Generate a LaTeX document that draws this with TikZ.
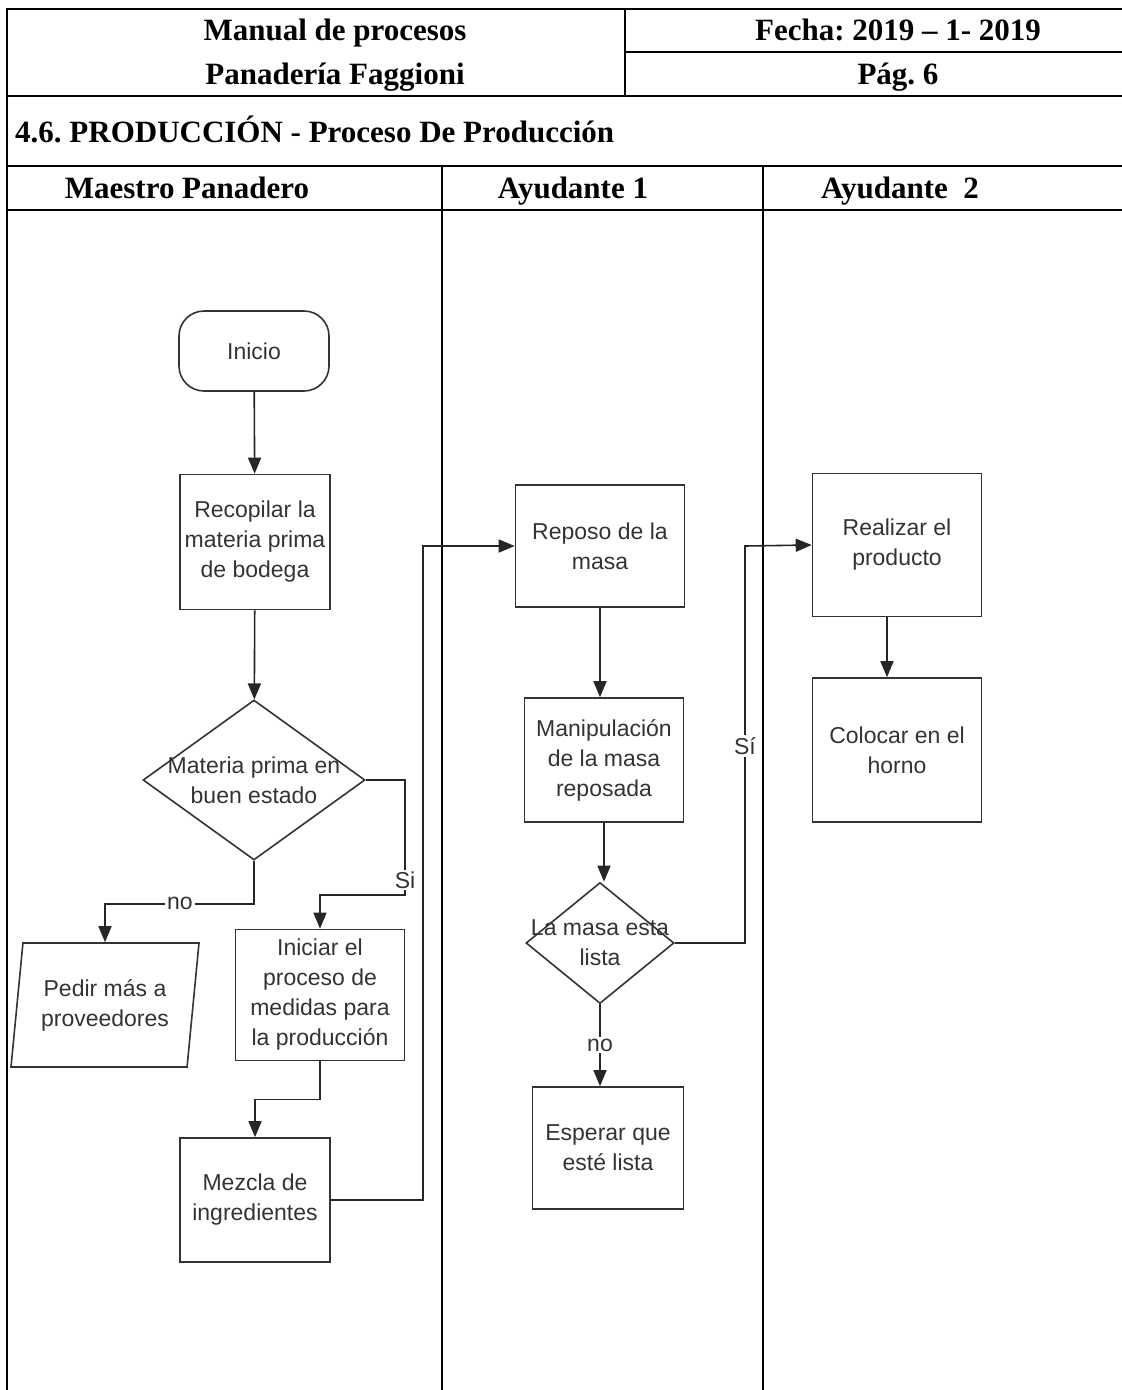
\documentclass[tikz,border=0pt]{standalone}
\usepackage{fontspec}
\setmainfont{Liberation Serif}
\newfontfamily\flowfont{Liberation Sans}
\frenchspacing
\usetikzlibrary{arrows.meta,shapes.geometric}

\begin{document}
\begin{tikzpicture}[
		x=1pt, y=-1pt,
		grid/.style={line width=1.8pt, black},
		head/.style={font=\fontsize{31}{36}\selectfont\bfseries, anchor=base, inner sep=0pt},
		flowtext/.style={font=\flowfont\fontsize{23}{30}\selectfont, text=black!80, align=center, inner sep=0pt},
		box/.style={rectangle, draw=black!80, line width=1.6pt, flowtext, minimum width=150pt, minimum height=124pt},
		startstop/.style={box, rounded corners=25pt, minimum height=80pt},
		decision/.style={diamond, draw=black!80, line width=1.6pt, inner sep=0pt},
		io/.style={trapezium, trapezium left angle=77, trapezium right angle=103, trapezium stretches body, draw=black!80, line width=1.6pt, flowtext, minimum width=188pt, minimum height=124pt},
		arrow/.style={line width=1.6pt, black!85, -{Triangle[length=16pt, width=13pt]}},
		lbl/.style={flowtext, fill=white, inner sep=2pt}
		]
		
		\useasboundingbox (0,0) rectangle (1122,1390);
		
		% table
		\draw [grid] (1122,9) -- (7,9) -- (7,1390);
		\draw [grid] (625,9) -- (625,96);
		\draw [grid] (625,52) -- (1122,52);
		\draw [grid] (7,96) -- (1122,96);
		\draw [grid] (7,166) -- (1122,166);
		\draw [grid] (7,210) -- (1122,210);
		\draw [grid] (442,166) -- (442,1390);
		\draw [grid] (763,166) -- (763,1390);
		
		\node (manual) at (335,40) [head] {Manual de procesos};
		\node (panaderia) at (335,84) [head] {Panadería Faggioni};
		\node (fecha) at (898,40) [head] {Fecha: 2019 – 1- 2019};
		\node (pag) at (898,84) [head] {Pág. 6};
		\node (titulo) at (15,142) [head, anchor=base west] {4.6. PRODUCCIÓN - Proceso De Producción};
		\node (maestro) at (187,198) [head] {Maestro Panadero};
		\node (ayudante1) at (573,198) [head] {Ayudante 1};
		\node (ayudante2) at (900,198) [head] {Ayudante\ \ 2};
		
		% Maestro Panadero
		\node (inicio) at (254,351) [startstop] {Inicio};
		\node (recopilar) at (255,542) [box, minimum height=135pt] {Recopilar la\\materia prima\\de bodega};
		\node (materia) at (254,780) [decision, minimum width=222pt, minimum height=160pt] {};
		\node (materiatxt) at (materia) [flowtext] {Materia prima en\\buen estado};
		\node (pedir) at (105,1005) [io] {Pedir más a\\proveedores};
		\node (iniciar) at (320,995) [box, minimum width=169pt, minimum height=131pt] {Iniciar el\\proceso de\\medidas para\\la producción};
		\node (mezcla) at (255,1200) [box, minimum height=124pt] {Mezcla de\\ingredientes};
		
		% Ayudante 1
		\node (reposo) at (600,546) [box, minimum width=169pt, minimum height=122pt] {Reposo de la\\masa};
		\node (manipulacion) at (604,760) [box, minimum width=159pt] {Manipulación\\de la masa\\reposada};
		\node (lista) at (600,943) [decision, minimum width=148pt, minimum height=121pt] {};
		\node (listatxt) at (lista) [flowtext] {La masa esta\\lista};
		\node (esperar) at (608,1148) [box, minimum width=151pt, minimum height=122pt] {Esperar que\\esté lista};
		
		% Ayudante 2
		\node (realizar) at (897,545) [box, minimum width=169pt, minimum height=143pt] {Realizar el\\producto};
		\node (colocar) at (897,750) [box, minimum width=169pt, minimum height=144pt] {Colocar en el\\horno};
		
		\draw [arrow] (inicio) -- (recopilar);
		\draw [arrow] (recopilar) -- (materia);
		\draw [arrow] (materia.east) -| (405,895) -| (iniciar.north);
		\node (si1) at (405,880) [lbl] {Si};
		\draw [arrow] (materia.south) -- ++(0,43) -| (pedir.north);
		\node (no1) at (180,903) [lbl] {no};
		\draw [arrow] (iniciar.south) -- ++(0,38) -| (mezcla.north);
		\draw [arrow] (mezcla.east) -| (423,546) -- (reposo.west);
		\draw [arrow] (reposo.south) -- (reposo.south |- manipulacion.north);
		\draw [arrow] (manipulacion.south) -- (manipulacion.south |- lista.north);
		\draw [arrow] (lista.east) -| (745,546) -- (realizar.west);
		\node (si2) at (745,746) [lbl] {Sí};
		\draw [arrow] (lista.south) -- (lista.south |- esperar.north);
		\node (no2) at (600,1045) [lbl] {no};
		\draw [arrow] ([xshift=-10pt]realizar.south) -- ([xshift=-10pt]colocar.north);
	\end{tikzpicture}
\end{document}
